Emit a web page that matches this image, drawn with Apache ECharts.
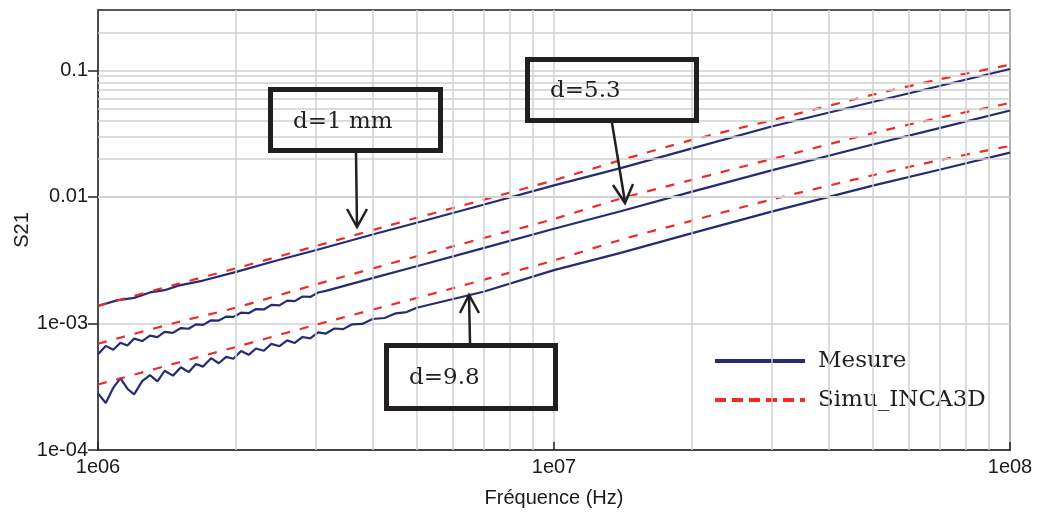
<!DOCTYPE html>
<html><head><meta charset="utf-8">
<script src="https://cdn.jsdelivr.net/npm/echarts@6/dist/echarts.min.js"></script>
<style>html,body{margin:0;padding:0;background:#fff}#c{width:1037px;height:517px}</style>
</head><body><div id="c"></div>
<script>
// ---- tick labels ----
const xTickValues = [1e6, 1e7, 1e8];
const xTickLabels = ['1e06', '1e07', '1e08'];
const yTickValues = [1e-4, 1e-3, 1e-2, 1e-1];
const yTickLabels = ['1e-04', '1e-03', '0.01', '0.1'];
// minor log grid positions
const xMinorGrid = [2e6,3e6,4e6,5e6,6e6,7e6,8e6,9e6,2e7,3e7,4e7,5e7,6e7,7e7,8e7,9e7];
const yMinorGrid = [2e-4,3e-4,4e-4,5e-4,6e-4,7e-4,8e-4,9e-4,2e-3,3e-3,4e-3,5e-3,6e-3,7e-3,8e-3,9e-3,
                    0.02,0.03,0.04,0.05,0.06,0.07,0.08,0.09,0.2];

// ---- simulation (Simu_INCA3D) ----
const simuFreq = [1e6,1.5e6,2e6,3e6,5e6,7e6,1e7,1.4e7,2e7,3e7,5e7,7e7,1e8];
const simuD1   = [1.38e-3,2.06e-3,2.72e-3,4.08e-3,6.84e-3,9.48e-3,1.355e-2,1.95e-2,2.81e-2,4.03e-2,6.42e-2,8.49e-2,0.111];
const simuD53  = [6.92e-4,1.026e-3,1.33e-3,2.03e-3,3.40e-3,4.72e-3,6.70e-3,9.70e-3,1.36e-2,1.99e-2,3.19e-2,4.22e-2,5.52e-2];
const simuD98  = [3.29e-4,4.91e-4,6.5e-4,9.75e-4,1.59e-3,2.21e-3,3.15e-3,4.58e-3,6.47e-3,9.53e-3,1.483e-2,1.95e-2,2.53e-2];

// ---- measurements (Mesure) ----
const measD1Freq = [1e6,1.1e6,1.2e6,1.3e6,1.4e6,1.5e6,1.7e6,2e6,2.5e6,3e6,4e6,5e6,7e6,1e7,1.4e7,2e7,3e7,5e7,7e7,1e8];
const measD1     = [1.374e-3,1.521e-3,1.592e-3,1.758e-3,1.832e-3,1.991e-3,2.183e-3,2.547e-3,3.184e-3,3.79e-3,5.05e-3,6.25e-3,8.67e-3,1.233e-2,1.687e-2,2.41e-2,3.60e-2,5.62e-2,7.52e-2,0.1026];

const measD53Freq = [1e6,1.04e6,1.08e6,1.12e6,1.16e6,1.2e6,1.25e6,1.3e6,1.35e6,1.4e6,1.46e6,1.52e6,1.58e6,1.64e6,1.7e6,1.77e6,1.84e6,1.91e6,1.98e6,
                     2.06e6,2.14e6,2.22e6,2.31e6,2.4e6,2.5e6,2.6e6,2.7e6,2.81e6,2.92e6,3.04e6,3.16e6,4e6,5e6,7e6,1e7,1.4e7,2e7,3e7,5e7,7e7,1e8];
const measD53     = [5.71e-4,6.65e-4,6.19e-4,7.03e-4,6.70e-4,7.59e-4,7.26e-4,8.02e-4,7.80e-4,8.57e-4,8.43e-4,9.20e-4,9.08e-4,9.84e-4,9.75e-4,1.059e-3,1.054e-3,1.132e-3,1.127e-3,
                     1.216e-3,1.205e-3,1.300e-3,1.29e-3,1.403e-3,1.39e-3,1.514e-3,1.50e-3,1.633e-3,1.62e-3,1.758e-3,1.81e-3,2.28e-3,2.83e-3,3.94e-3,5.6e-3,7.71e-3,1.096e-2,1.622e-2,2.595e-2,3.50e-2,4.82e-2];

const measD98Freq = [1e6,1.04e6,1.08e6,1.12e6,1.16e6,1.2e6,1.25e6,1.3e6,1.35e6,1.4e6,1.46e6,1.52e6,1.58e6,1.64e6,1.7e6,1.77e6,1.84e6,1.91e6,1.98e6,
                     2.06e6,2.14e6,2.22e6,2.31e6,2.4e6,2.5e6,2.6e6,2.7e6,2.81e6,2.92e6,3.04e6,3.16e6,3.3e6,3.45e6,3.6e6,3.8e6,4e6,4.25e6,4.5e6,4.75e6,5e6,
                     7e6,1e7,1.4e7,2e7,3e7,5e7,7e7,1e8];
const measD98     = [2.80e-4,2.35e-4,3.10e-4,3.70e-4,3.05e-4,2.75e-4,3.50e-4,3.90e-4,3.48e-4,4.23e-4,3.87e-4,4.51e-4,4.12e-4,4.79e-4,4.56e-4,5.32e-4,4.85e-4,5.44e-4,5.26e-4,
                     6.05e-4,5.65e-4,6.34e-4,6.08e-4,6.89e-4,6.61e-4,7.35e-4,7.01e-4,7.82e-4,7.62e-4,8.49e-4,8.32e-4,9.12e-4,9.02e-4,9.82e-4,9.91e-4,1.084e-3,1.104e-3,1.202e-3,1.230e-3,1.33e-3,
                     1.78e-3,2.64e-3,3.61e-3,5.15e-3,7.66e-3,1.227e-2,1.64e-2,2.24e-2];

const BLUE = '#262b73', RED = '#ee2a2a';
const zip = (f, v) => f.map((x, i) => [x, v[i]]);
const fmt = (vals, labels) => (v) => {
  for (let i = 0; i < vals.length; i++) if (Math.abs(Math.log10(v) - Math.log10(vals[i])) < 1e-6) return labels[i];
  return '';
};

function meas(f, v) {
  return { name: 'Mesure', type: 'line', data: zip(f, v), symbol: 'none', z: 3,
           lineStyle: { color: BLUE, width: 2.2 }, itemStyle: { color: BLUE } };
}
function simu(v) {
  return { name: 'Simu_INCA3D', type: 'line', data: zip(simuFreq, v), symbol: 'none', smooth: 0.3, z: 4,
           lineStyle: { color: RED, width: 2.2, type: [9, 10] }, itemStyle: { color: RED } };
}

const chart = echarts.init(document.getElementById('c'), null, { renderer: 'canvas' });
const serif = 'DejaVu Serif';
const boxStyle = { fill: 'rgba(255,255,255,0)', stroke: '#231f20', lineWidth: 5 };
const arrowStyle = { stroke: '#231f20', lineWidth: 2.5, fill: null };

chart.setOption({
  animation: false,
  backgroundColor: '#fff',
  grid: { left: 98, right: 27, top: 10, bottom: 67, show: true, borderColor: '#222', borderWidth: 1.5,
          containLabel: false, outerBoundsMode: 'none' },
  xAxis: {
    type: 'log', logBase: 10, min: 1e6, max: 1e8,
    name: 'Fréquence (Hz)', nameLocation: 'middle', nameGap: 38, nameMoveOverlap: false,
    nameTextStyle: { fontFamily: 'Liberation Sans', fontSize: 20, color: '#1a1a1a' },
    axisLine: { lineStyle: { color: '#222', width: 1.5 } },
    axisTick: { inside: true, length: 8, lineStyle: { color: '#222', width: 1.5 } },
    axisLabel: { fontFamily: 'Liberation Sans', fontSize: 20, color: '#1a1a1a', margin: 7, formatter: fmt(xTickValues, xTickLabels) },
    splitLine: { show: true, lineStyle: { color: '#d0d0d0', width: 1.5 } }
  },
  yAxis: {
    type: 'log', logBase: 10, min: 1e-4, max: 0.3,
    name: 'S21', nameLocation: 'middle', nameGap: 66, nameMoveOverlap: false,
    nameTextStyle: { fontFamily: 'Liberation Sans', fontSize: 20, color: '#1a1a1a' },
    axisLine: { lineStyle: { color: '#222', width: 1.5 } },
    axisTick: { length: 10, lineStyle: { color: '#222', width: 1.5 }, customValues: yTickValues },
    axisLabel: { fontFamily: 'Liberation Sans', fontSize: 20, color: '#1a1a1a', margin: 10,
                 customValues: yTickValues, formatter: fmt(yTickValues, yTickLabels) },
    splitLine: { show: true, lineStyle: { color: '#d0d0d0', width: 1.5 } }
  },
  legend: {
    orient: 'vertical', left: 708, top: 343,
    itemWidth: 90, itemHeight: 14, itemGap: 13,
    itemStyle: { opacity: 0 },
    textStyle: { fontFamily: serif, fontSize: 23, color: '#231f20', lineHeight: 26, padding: [0, 0, 0, 8] },
    data: [
      { name: 'Mesure', lineStyle: { width: 4 } },
      { name: 'Simu_INCA3D', lineStyle: { width: 4, type: [11, 6] } }
    ]
  },
  series: [
    { name: 'grid', type: 'line', data: [], z: 1, silent: true,
      markLine: { silent: true, symbol: ['none', 'none'], label: { show: false },
        lineStyle: { color: '#d0d0d0', width: 1.5, type: 'solid' }, emphasis: { disabled: true },
        data: xMinorGrid.map(v => ({ xAxis: v })).concat(yMinorGrid.map(v => ({ yAxis: v }))) } },
    meas(measD1Freq, measD1),
    meas(measD53Freq, measD53),
    meas(measD98Freq, measD98),
    simu(simuD1),
    simu(simuD53),
    simu(simuD98)
  ],
  graphic: [
    { type: 'rect', shape: { x: 270.5, y: 89.5, width: 170, height: 61 }, style: boxStyle, z: 10 },
    { type: 'text', x: 293, y: 122, style: { text: 'd=1 mm', font: '23px "DejaVu Serif"', fill: '#231f20', verticalAlign: 'middle' }, z: 10 },
    { type: 'polyline', shape: { points: [[356, 153], [357, 226]] }, style: arrowStyle, z: 10 },
    { type: 'polyline', shape: { points: [[347, 209], [357, 227], [367, 209]] }, style: arrowStyle, z: 10 },

    { type: 'rect', shape: { x: 527.5, y: 59.5, width: 169, height: 61 }, style: boxStyle, z: 10 },
    { type: 'text', x: 550, y: 91, style: { text: 'd=5.3', font: '23px "DejaVu Serif"', fill: '#231f20', verticalAlign: 'middle' }, z: 10 },
    { type: 'polyline', shape: { points: [[612, 123], [625, 202]] }, style: arrowStyle, z: 10 },
    { type: 'polyline', shape: { points: [[613, 185], [625, 203], [633, 184]] }, style: arrowStyle, z: 10 },

    { type: 'rect', shape: { x: 386.5, y: 345.5, width: 169, height: 63 }, style: boxStyle, z: 10 },
    { type: 'text', x: 409, y: 378, style: { text: 'd=9.8', font: '23px "DejaVu Serif"', fill: '#231f20', verticalAlign: 'middle' }, z: 10 },
    { type: 'polyline', shape: { points: [[470, 343], [469, 296]] }, style: arrowStyle, z: 10 },
    { type: 'polyline', shape: { points: [[460, 313], [469, 295], [479, 313]] }, style: arrowStyle, z: 10 }
  ]
});
</script>
</body></html>
